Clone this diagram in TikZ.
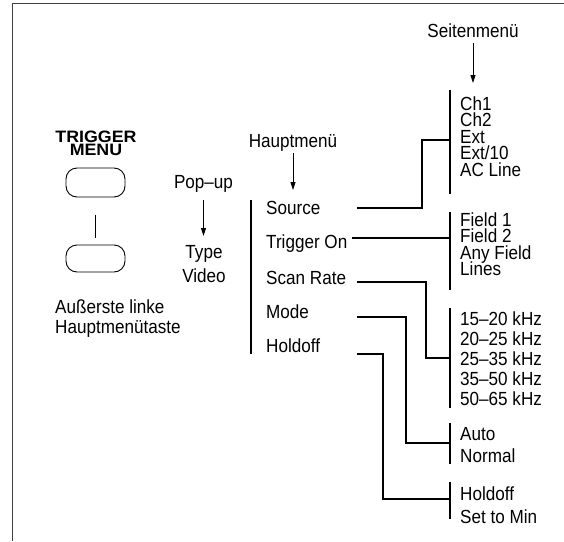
\documentclass[tikz,border=0pt]{standalone}
\usepackage{fontspec}
\setmainfont{Liberation Sans}[FakeStretch=0.9]
\newfontfamily\trigfont{Liberation Sans}[FakeStretch=1.08]
\usetikzlibrary{arrows.meta}
\begin{document}
\begin{tikzpicture}[x=1pt,y=-1pt,
  txt/.style={inner sep=0pt, anchor=base west, text height=12.5pt, text depth=3pt, font=\fontsize{19}{19}\selectfont},
  ctxt/.style={inner sep=0pt, anchor=base, text height=12.5pt, text depth=3pt, font=\fontsize{19}{19}\selectfont},
  btxt/.style={inner sep=0pt, anchor=base, text height=11.5pt, text depth=0pt, font=\trigfont\bfseries\fontsize{16.5}{16.5}\selectfont},
  bar/.style={line width=2pt},
  conn/.style={line width=1.8pt},
  arr/.style={line width=0.8pt, -{Triangle[length=8pt,width=5pt]}},
  btn/.style={draw, line width=0.9pt, rounded corners=11pt, minimum width=59pt, inner sep=0pt},
  frame/.style={line width=0.8pt, black!75}]
\useasboundingbox (0,0) rectangle (564,541);
% frame
\draw[frame] (12,541) -- (12,3) -- (564,3);

% button block
\node[btxt] (tm1) at (96,142) {TRIGGER};
\node[btxt] (tm2) at (96,155.5) {MENU};
\node[btn, minimum height=29pt] (b1) at (95.5,182.5) {};
\node[btn, minimum height=27pt] (b2) at (95.5,258.5) {};
\draw[conn, shorten <=18pt, shorten >=7pt] (b1) -- (b2);
\node[txt] (al1) at (55,313) {Außerste linke};
\node[txt] (al2) at (55,333) {Hauptmenütaste};

% pop-up
\node[ctxt] (pop) at (203.5,188) {Pop–up};
\coordinate (popA) at (203.5,200);
\coordinate (popB) at (203.5,236);
\draw[arr] (popA) -- (popB);
\node[ctxt] (typ) at (204,258) {Type};
\node[ctxt] (vid) at (204,282) {Video};

% main menu
\node[ctxt] (hm) at (293,147) {Hauptmenü};
\coordinate (hmA) at (293,153);
\coordinate (hmB) at (293,190);
\draw[arr] (hmA) -- (hmB);
\coordinate (mbT) at (251,200);
\coordinate (mbB) at (251,354);
\draw[bar] (mbT) -- (mbB);
\node[txt] (m1) at (266,214) {Source};
\node[txt] (m2) at (266,248) {Trigger On};
\node[txt] (m3) at (266,284) {Scan Rate};
\node[txt] (m4) at (266,318) {Mode};
\node[txt] (m5) at (266,352) {Holdoff};

% side menu
\node[ctxt] (sm) at (473,37) {Seitenmenü};
\coordinate (smA) at (473,43);
\coordinate (smB) at (473,83);
\draw[arr] (smA) -- (smB);

% side bars
\coordinate (s1T) at (450,90);  \coordinate (s1B) at (450,194);
\coordinate (s2T) at (450,212); \coordinate (s2B) at (450,290);
\coordinate (s3T) at (450,308); \coordinate (s3B) at (450,408);
\coordinate (s4T) at (450,423); \coordinate (s4B) at (450,464);
\coordinate (s5T) at (450,482); \coordinate (s5B) at (450,519);
\draw[bar] (s1T) -- (s1B);
\draw[bar] (s2T) -- (s2B);
\draw[bar] (s3T) -- (s3B);
\draw[bar] (s4T) -- (s4B);
\draw[bar] (s5T) -- (s5B);

% side texts
\foreach \t [count=\i] in {Ch1,Ch2,Ext,Ext/10,AC Line}
  \node[txt] (src\i) at (460,{110+16.5*(\i-1)}) {\t};
\foreach \t [count=\i] in {Field 1,Field 2,Any Field,Lines}
  \node[txt] (fld\i) at (460,{226+16.5*(\i-1)}) {\t};
\foreach \t [count=\i] in {15–20 kHz,20–25 kHz,25–35 kHz,35–50 kHz,50–65 kHz}
  \node[txt] (khz\i) at (460,{325+20*(\i-1)}) {\t};
\node[txt] (mo1) at (460,440) {Auto};
\node[txt] (mo2) at (460,462) {Normal};
\node[txt] (ho1) at (460,500) {Holdoff};
\node[txt] (ho2) at (460,523) {Set to Min};

% connectors
\coordinate (c1a) at (357,208); \coordinate (c1b) at (450,140);
\draw[conn] (c1a) -- (422,208) -- (422,140) -- (c1b);
\coordinate (c2a) at (352,238); \coordinate (c2b) at (450,238);
\draw[conn] (c2a) -- (c2b);
\coordinate (c3a) at (357,282); \coordinate (c3b) at (450,358);
\draw[conn] (c3a) -- (426,282) -- (426,358) -- (c3b);
\coordinate (c4a) at (357,317); \coordinate (c4b) at (450,443);
\draw[conn] (c4a) -- (406,317) -- (406,443) -- (c4b);
\coordinate (c5a) at (357,354); \coordinate (c5b) at (450,499);
\draw[conn] (c5a) -- (383,354) -- (383,499) -- (c5b);
\end{tikzpicture}
\end{document}
